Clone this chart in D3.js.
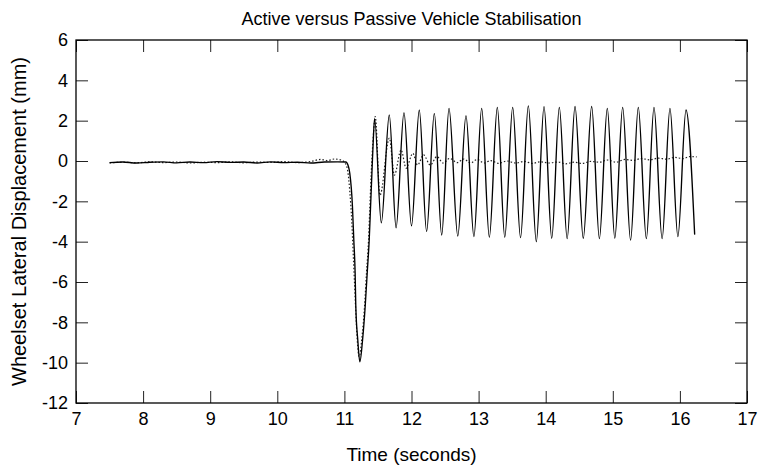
<!DOCTYPE html>
<html>
<head>
<meta charset="utf-8">
<script src="https://cdn.jsdelivr.net/npm/d3@7"></script>
<style>
  body { margin: 0; background: #fff; }
  svg text { font-family: "Liberation Sans", Arial, sans-serif; fill: #000; }
</style>
</head>
<body>
<div id="chart"></div>
<script>
const w = 759;
const h = 467;
const margin = { top: 40, right: 12, bottom: 64, left: 76 };

// Solid trace: time (s) and wheelset lateral displacement (mm)
const solidTime = [
  7.5, 7.7, 7.9, 8.1, 8.3, 8.5, 8.7, 8.9, 9.1, 9.3, 9.5, 9.7, 9.9, 10.1, 10.3, 10.5, 10.7, 10.9,
  11.02, 11.06, 11.08, 11.12, 11.14, 11.16, 11.17, 11.2, 11.23, 11.27, 11.31, 11.34, 11.37, 11.39, 11.41, 11.43, 11.45,
  11.55, 11.669, 11.77, 11.888, 12.0, 12.116, 12.225, 12.34, 12.45, 12.559, 12.69, 12.812, 12.93, 13.046,
  13.16, 13.279, 13.39, 13.508, 13.625, 13.741, 13.86, 13.975, 14.09, 14.203, 14.32, 14.437, 14.56, 14.685,
  14.8, 14.918, 15.03, 15.147, 15.265, 15.38, 15.5, 15.614, 15.735, 15.852, 15.97, 16.091, 16.22
];
const solidDisp = [
  -0.08, -0.05, -0.1, -0.06, -0.04, -0.09, -0.05, -0.08, -0.03, -0.07, -0.05, -0.1, -0.04, -0.08, -0.06, -0.1, -0.05, -0.04,
  -0.05, -0.27, -0.6, -2.26, -3.9, -5.55, -7.2, -8.9, -9.96, -8.9, -7.2, -5.55, -3.9, -2.26, -0.6, 1.0, 2.1,
  -3.07, 2.28, -3.31, 2.4, -3.22, 2.53, -3.5, 2.36, -3.67, 2.61, -3.72, 2.25, -3.75, 2.61,
  -3.78, 2.66, -3.78, 2.66, -3.8, 2.73, -4.0, 2.7, -3.83, 2.66, -3.85, 2.7, -3.83, 2.7,
  -3.85, 2.61, -3.83, 2.66, -3.92, 2.66, -3.85, 2.66, -3.85, 2.61, -3.75, 2.53, -3.65
];

// Dotted trace
const dottedTime = [
  7.5, 7.7, 7.9, 8.1, 8.3, 8.5, 8.7, 8.9, 9.1, 9.3, 9.5, 9.7, 9.9, 10.1, 10.3, 10.5, 10.65, 10.75, 10.85, 10.95, 11.01,
  11.05, 11.08, 11.11, 11.13, 11.15, 11.17, 11.19, 11.22, 11.26, 11.3, 11.33, 11.36, 11.38, 11.4, 11.43, 11.46,
  11.53, 11.67, 11.745, 11.845, 11.92, 12.02, 12.09, 12.18, 12.28, 12.38, 12.47, 12.57, 12.68, 12.78, 12.88,
  12.98, 13.08, 13.18, 13.3, 13.42, 13.55, 13.68, 13.8, 13.92, 14.05, 14.18, 14.3, 14.42, 14.55, 14.67, 14.8,
  14.92, 15.05, 15.18, 15.3, 15.42, 15.55, 15.68, 15.8, 15.92, 16.05, 16.15, 16.25
];
const dottedDisp = [
  -0.1, -0.06, -0.09, -0.04, -0.08, -0.05, -0.1, -0.06, -0.08, -0.04, -0.09, -0.05, -0.07, -0.03, -0.08, -0.02, 0.08, 0.02, 0.1, 0.05, -0.1,
  -0.5, -1.5, -3.0, -4.5, -6.0, -7.5, -8.8, -9.7, -8.8, -7.2, -5.5, -3.9, -2.2, -0.6, 1.2, 2.2,
  -1.7, 1.13, -0.7, 0.55, -0.36, 0.38, -0.2, 0.3, -0.2, 0.22, -0.1, 0.13, -0.08, 0.1, -0.1,
  0.08, -0.1, 0.02, -0.12, 0.0, -0.1, -0.02, -0.12, -0.04, -0.1, -0.05, -0.14, -0.06, -0.12, -0.02, -0.06,
  0.05, -0.06, 0.08, 0.03, 0.12, 0.06, 0.14, 0.09, 0.18, 0.12, 0.22, 0.2
];

const xTicks = [7, 8, 9, 10, 11, 12, 13, 14, 15, 16, 17];
const yTicks = [-12, -10, -8, -6, -4, -2, 0, 2, 4, 6];

const solid = solidTime.map((t, i) => ({ t: t, v: solidDisp[i] }));
const dotted = dottedTime.map((t, i) => ({ t: t, v: dottedDisp[i] }));

const svg = d3.select("#chart")
  .append("svg")
  .attr("width", w)
  .attr("height", h);

const xScale = d3.scaleLinear()
  .domain([7, 17])
  .range([margin.left, w - margin.right]);

const yScale = d3.scaleLinear()
  .domain([-12, 6])
  .range([h - margin.bottom, margin.top]);

const fmt = d => String(d);

// Axes (ticks point inward, MATLAB style box)
const xAxis = d3.axisBottom(xScale).tickValues(xTicks).tickFormat(fmt)
  .tickSizeInner(-12).tickSizeOuter(0).tickPadding(9);
const yAxis = d3.axisLeft(yScale).tickValues(yTicks).tickFormat(fmt)
  .tickSizeInner(-12).tickSizeOuter(0).tickPadding(8);
const xTop = d3.axisTop(xScale).tickValues(xTicks).tickFormat("")
  .tickSizeInner(-12).tickSizeOuter(0);
const yRight = d3.axisRight(yScale).tickValues(yTicks).tickFormat("")
  .tickSizeInner(-12).tickSizeOuter(0);

svg.append("g")
  .attr("class", "x-axis")
  .attr("transform", `translate(0,${h - margin.bottom})`)
  .call(xAxis);

svg.append("g")
  .attr("class", "y-axis")
  .attr("transform", `translate(${margin.left},0)`)
  .call(yAxis);

svg.append("g")
  .attr("transform", `translate(0,${margin.top})`)
  .call(xTop);

svg.append("g")
  .attr("transform", `translate(${w - margin.right},0)`)
  .call(yRight);

svg.selectAll(".tick text")
  .style("font-size", "18px");
svg.selectAll(".tick line")
  .attr("stroke", "#222")
  .attr("stroke-width", 1);
svg.selectAll(".domain").remove();

// Frame
svg.append("rect")
  .attr("x", margin.left)
  .attr("y", margin.top)
  .attr("width", w - margin.right - margin.left)
  .attr("height", h - margin.bottom - margin.top)
  .attr("fill", "none")
  .attr("stroke", "#000")
  .attr("stroke-width", 1.3);

// Lines
const line = d3.line()
  .x(d => xScale(d.t))
  .y(d => yScale(d.v))
  .curve(d3.curveMonotoneX);

svg.append("path")
  .datum(dotted)
  .attr("fill", "none")
  .attr("stroke", "#222")
  .attr("stroke-width", 1.2)
  .attr("stroke-dasharray", "1.5,2")
  .attr("d", line);

svg.append("path")
  .datum(solid)
  .attr("fill", "none")
  .attr("stroke", "#000")
  .attr("stroke-width", 1.35)
  .attr("d", line);

// Titles
svg.append("text")
  .attr("x", (margin.left + w - margin.right) / 2)
  .attr("y", 25)
  .attr("text-anchor", "middle")
  .style("font-size", "18px")
  .text("Active versus Passive Vehicle Stabilisation");

svg.append("text")
  .attr("x", (margin.left + w - margin.right) / 2)
  .attr("y", 461)
  .attr("text-anchor", "middle")
  .style("font-size", "19px")
  .text("Time (seconds)");

svg.append("text")
  .attr("transform", `translate(26,${(margin.top + h - margin.bottom) / 2}) rotate(-90)`)
  .attr("text-anchor", "middle")
  .style("font-size", "20px")
  .text("Wheelset Lateral Displacement (mm)");
</script>
</body>
</html>
